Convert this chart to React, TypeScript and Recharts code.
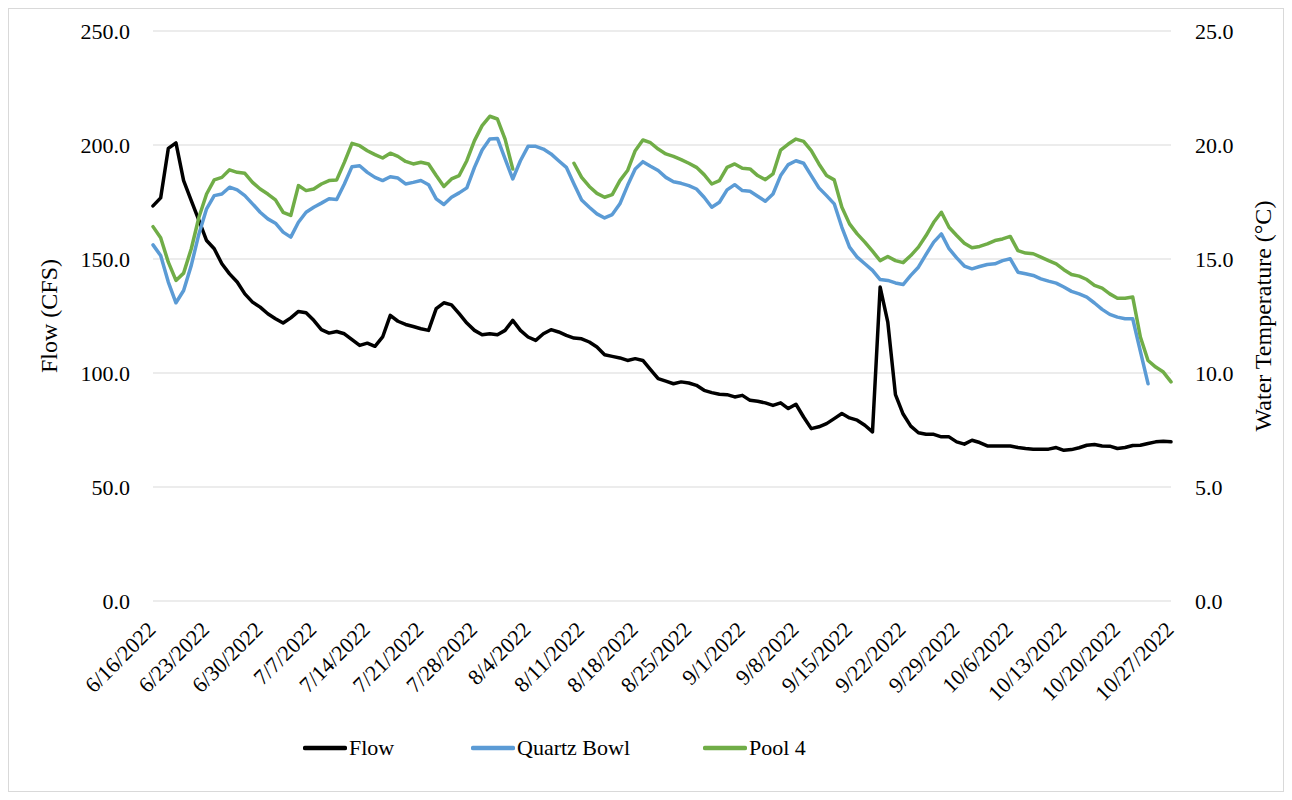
import { CartesianGrid, Legend, Line, LineChart, XAxis, YAxis } from 'recharts'

const FONT = '"Liberation Serif", "Times New Roman", Times, serif'

// daily readings, 6/16/2022 .. 10/27/2022
const flow = [
  173.3, 176.8, 198.5, 200.9, 184.4, 175.6, 166.9, 158.1, 154.5, 147.9,
  143.5, 139.9, 134.7, 131.1, 128.9, 126.0, 123.8, 121.9, 124.2, 127.0,
  126.4, 123.1, 119.0, 117.5, 118.2, 117.2, 114.6, 112.1, 113.1, 111.7,
  115.8, 125.3, 122.7, 121.3, 120.4, 119.4, 118.7, 128.2, 130.8, 129.9,
  126.0, 121.9, 118.7, 116.8, 117.2, 116.8, 118.7, 123.1, 118.7, 115.8,
  114.3, 117.2, 119.0, 118.0, 116.5, 115.3, 115.0, 113.6, 111.4, 108.0,
  107.3, 106.6, 105.5, 106.3, 105.5, 101.5, 97.5, 96.4, 95.3, 96.1,
  95.6, 94.6, 92.4, 91.4, 90.7, 90.5, 89.5, 90.2, 88.0, 87.6,
  86.9, 85.8, 86.9, 84.4, 86.3, 80.7, 75.6, 76.4, 77.8, 80.0,
  82.2, 80.3, 79.3, 77.1, 74.2, 137.7, 122.3, 90.5, 82.0, 76.7,
  73.8, 73.1, 73.1, 72.0, 72.0, 69.8, 68.8, 70.5, 69.5, 68.0,
  68.0, 68.0, 68.0, 67.3, 66.9, 66.6, 66.6, 66.6, 67.3, 66.1,
  66.4, 67.2, 68.3, 68.6, 68.0, 67.9, 66.9, 67.3, 68.2, 68.3,
  69.1, 69.8, 70.1, 69.8,
]

const quartzBowl: (number | null)[] = [
  15.62, 15.15, 13.99, 13.08, 13.62, 14.72, 16.1, 17.2, 17.78, 17.85,
  18.15, 18.03, 17.78, 17.42, 17.05, 16.76, 16.57, 16.18, 15.96, 16.61,
  17.05, 17.27, 17.45, 17.64, 17.61, 18.29, 19.05, 19.09, 18.8, 18.58,
  18.44, 18.61, 18.55, 18.29, 18.36, 18.44, 18.26, 17.64, 17.39, 17.71,
  17.9, 18.12, 19.02, 19.78, 20.26, 20.29, 19.39, 18.51, 19.31, 19.94,
  19.94, 19.82, 19.61, 19.31, 19.02, 18.29, 17.59, 17.27, 16.98, 16.8,
  16.95, 17.42, 18.22, 18.95, 19.27, 19.07, 18.88, 18.58, 18.39, 18.32,
  18.22, 18.07, 17.71, 17.27, 17.49, 18.03, 18.26, 18.0, 17.97, 17.75,
  17.53, 17.85, 18.66, 19.14, 19.31, 19.2, 18.66, 18.12, 17.78, 17.42,
  16.39, 15.52, 15.08, 14.79, 14.5, 14.1, 14.06, 13.95, 13.88, 14.28,
  14.64, 15.2, 15.74, 16.1, 15.45, 15.05, 14.69, 14.57, 14.67, 14.76,
  14.79, 14.93, 15.01, 14.42, 14.35, 14.28, 14.13, 14.03, 13.94, 13.77,
  13.58, 13.47, 13.33, 13.07, 12.79, 12.57, 12.45, 12.38, 12.38, 10.95,
  9.53, null, null, null,
]

const pool4: (number | null)[] = [
  16.42, 15.93, 14.86, 14.06, 14.38, 15.45, 16.83, 17.85, 18.47, 18.58,
  18.91, 18.8, 18.76, 18.36, 18.07, 17.85, 17.59, 17.05, 16.91, 18.22,
  18.0, 18.07, 18.29, 18.44, 18.47, 19.24, 20.07, 19.97, 19.75, 19.58,
  19.43, 19.64, 19.5, 19.28, 19.17, 19.24, 19.17, 18.66, 18.18, 18.51,
  18.66, 19.31, 20.19, 20.85, 21.26, 21.14, 20.26, 18.95, null, null,
  null, null, null, null, null, 19.2, 18.58, 18.18, 17.88, 17.71,
  17.82, 18.44, 18.88, 19.75, 20.22, 20.1, 19.82, 19.61, 19.5, 19.36,
  19.2, 19.02, 18.7, 18.29, 18.44, 19.02, 19.17, 18.98, 18.95, 18.66,
  18.48, 18.73, 19.78, 20.04, 20.26, 20.16, 19.75, 19.17, 18.66, 18.47,
  17.27, 16.54, 16.1, 15.74, 15.34, 14.93, 15.11, 14.93, 14.84, 15.15,
  15.52, 16.03, 16.61, 17.05, 16.39, 16.03, 15.69, 15.49, 15.55, 15.66,
  15.81, 15.88, 15.99, 15.37, 15.26, 15.23, 15.08, 14.93, 14.79, 14.53,
  14.32, 14.25, 14.1, 13.84, 13.72, 13.47, 13.28, 13.28, 13.33, 11.58,
  10.55, 10.26, 10.04, 9.61,
]

const tickLabels = [
  '6/16/2022', '6/23/2022', '6/30/2022', '7/7/2022', '7/14/2022',
  '7/21/2022', '7/28/2022', '8/4/2022', '8/11/2022', '8/18/2022',
  '8/25/2022', '9/1/2022', '9/8/2022', '9/15/2022', '9/22/2022',
  '9/29/2022', '10/6/2022', '10/13/2022', '10/20/2022', '10/27/2022',
]

const flowTicks = [0, 50, 100, 150, 200, 250]
const tempTicks = [0, 5, 10, 15, 20, 25]

const seriesNames = ['Flow', 'Quartz Bowl', 'Pool 4']
const seriesColors = ['#000000', '#5B9BD5', '#70AD47']

const dayLabel = (i: number) => {
  const d = new Date(2022, 5, 16 + i)
  return `${d.getMonth() + 1}/${d.getDate()}/${d.getFullYear()}`
}

const rows = flow.map((f, i) => ({
  date: dayLabel(i),
  flow: f,
  quartz: quartzBowl[i] ?? null,
  pool: pool4[i] ?? null,
}))

const DateTick = ({ x, y, payload }: any) => {
  const tx = x + 4
  const ty = y + 30
  return (
    <text x={tx} y={ty} textAnchor="end" transform={`rotate(-45, ${tx}, ${ty})`}
      fontSize={22} fontFamily={FONT} fill="#000">
      {payload.value}
    </text>
  )
}

const legendSlots = [168, 232, 120]

const LegendRow = () => (
  <div style={{ display: 'flex', alignItems: 'center', height: 30, paddingLeft: 295, fontFamily: FONT, fontSize: 22, color: '#000' }}>
    {seriesNames.map((name, i) => (
      <div key={name} style={{ display: 'flex', alignItems: 'center', width: legendSlots[i] }}>
        <svg width={44} height={10}>
          <line x1={2} y1={5} x2={42} y2={5} stroke={seriesColors[i]} strokeWidth={4.5} strokeLinecap="round" />
        </svg>
        <span style={{ marginLeft: 2 }}>{name}</span>
      </div>
    ))}
  </div>
)

export default function App() {
  const tick = { fontSize: 22, fontFamily: FONT, fill: '#000' }
  return (
    <div style={{ position: 'relative', width: 1276, height: 784 }}>
      <LineChart width={1276} height={784} data={rows} margin={{ top: 23, right: 0, bottom: 29, left: 0 }}
        style={{ fontFamily: FONT }}>
        <CartesianGrid yAxisId="flow" vertical={false} stroke="#d9d9d9" strokeWidth={1.2} />
        <XAxis dataKey="date" ticks={tickLabels} interval={0} tick={<DateTick />}
          axisLine={false} tickLine={false} tickSize={0} tickMargin={0} height={132} />
        <YAxis yAxisId="flow" domain={[0, 250]} ticks={flowTicks} width={145}
          axisLine={false} tickLine={false} tickSize={0} tickMargin={23}
          tickFormatter={(v: number) => v.toFixed(1)} tick={tick}
          label={{ value: 'Flow (CFS)', angle: -90, position: 'center', dx: -32, fontSize: 24, fontFamily: FONT, fill: '#000' }} />
        <YAxis yAxisId="temp" orientation="right" domain={[0, 25]} ticks={tempTicks} width={113}
          axisLine={false} tickLine={false} tickSize={0} tickMargin={24}
          tickFormatter={(v: number) => v.toFixed(1)} tick={{ ...tick, textAnchor: 'start' }}
          label={{ value: 'Water Temperature (°C)', angle: -90, position: 'center', dx: 35, fontSize: 24, fontFamily: FONT, fill: '#000' }} />
        <Legend verticalAlign="bottom" content={() => <LegendRow />} />
        <Line yAxisId="flow" dataKey="flow" name="Flow" type="linear" stroke={seriesColors[0]} strokeWidth={3.5}
          strokeLinejoin="round" strokeLinecap="round" dot={false} activeDot={false} isAnimationActive={false} />
        <Line yAxisId="temp" dataKey="quartz" name="Quartz Bowl" type="linear" stroke={seriesColors[1]} strokeWidth={3.5}
          strokeLinejoin="round" strokeLinecap="round" dot={false} activeDot={false} isAnimationActive={false} />
        <Line yAxisId="temp" dataKey="pool" name="Pool 4" type="linear" stroke={seriesColors[2]} strokeWidth={3.5}
          strokeLinejoin="round" strokeLinecap="round" dot={false} activeDot={false} isAnimationActive={false} />
      </LineChart>
      <div style={{ position: 'absolute', left: 0, top: 0, width: 1276, height: 784, boxSizing: 'border-box', border: '1px solid #d9d9d9', pointerEvents: 'none' }} />
    </div>
  )
}
